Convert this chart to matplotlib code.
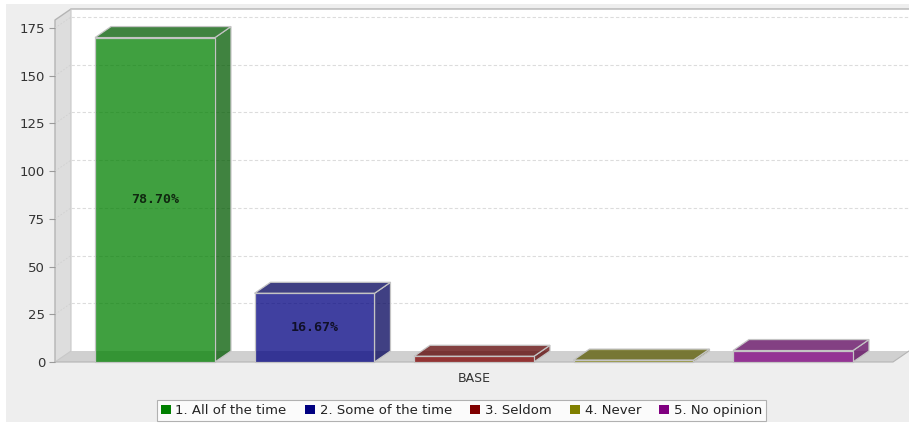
import matplotlib
matplotlib.use("Agg")
import matplotlib.pyplot as plt
from matplotlib.patches import Polygon, Rectangle
from matplotlib import colors as mcolors

# ---- data ----
categories = ["BASE"]
series_names = ["1. All of the time", "2. Some of the time", "3. Seldom", "4. Never", "5. No opinion"]
values = [170, 36, 3, 1, 6]
series_colors = ["#008000", "#000080", "#800000", "#808000", "#800080"]
bar_labels = ["78.70%", "16.67%", "", "", ""]
yticks = [0, 25, 50, 75, 100, 125, 150, 175]

W, H = 909, 424
fig = plt.figure(figsize=(W / 100, H / 100), dpi=100)
fig.patch.set_facecolor("white")
fig.patches.append(Rectangle((6 / W, 2 / H), (W - 6) / W, 418 / H, transform=fig.transFigure,
                             facecolor="#EEEEEE", edgecolor="none", zorder=-10))

ax = fig.add_axes([55 / W, 62 / H, 838 / W, 342 / H])
ax.set_facecolor("none")
xmin, xmax = -0.627, 4.627
ymin, ymax = 0, 179.2
ax.set_xlim(xmin, xmax)
ax.set_ylim(ymin, ymax)

DX = (xmax - xmin) / 838 * 16
DY = (ymax - ymin) / 342 * 11
bw = 0.752

# walls
ax.add_patch(Polygon([(xmin + DX, DY), (xmax + DX, DY), (xmax + DX, ymax + DY), (xmin + DX, ymax + DY)],
                     closed=True, facecolor="white", edgecolor="none", clip_on=False, zorder=0.5))
ax.add_patch(Polygon([(xmin, 0), (xmin + DX, DY), (xmin + DX, ymax + DY), (xmin, ymax)],
                     closed=True, facecolor="#DDDDDD", edgecolor="none", clip_on=False, zorder=0.6))
ax.add_patch(Polygon([(xmin, 0), (xmax, 0), (xmax + DX, DY), (xmin + DX, DY)],
                     closed=True, facecolor="#D0D0D0", edgecolor="none", clip_on=False, zorder=0.6))
# outline
ax.plot([xmin, xmin, xmin + DX, xmax + DX], [0, ymax, ymax + DY, ymax + DY],
        color="#B4B4B4", lw=1.0, clip_on=False, zorder=0.7)
ax.plot([xmin, xmin + DX, xmin + DX], [0, DY, ymax + DY], color="#C8C8C8", lw=0.8, clip_on=False, zorder=0.7)
ax.plot([xmin, xmax, xmax + DX], [0, 0, DY], color="#B4B4B4", lw=0.8, clip_on=False, zorder=0.7)

# gridlines on back wall + diagonal on left wall
for v in yticks[1:]:
    ax.plot([xmin + DX, xmax + DX], [v + DY, v + DY], color="#DCDCDC", lw=0.8,
            ls=(0, (3, 2)), clip_on=False, zorder=0.8)
    ax.plot([xmin, xmin + DX], [v, v + DY], color="#D0D0D0", lw=0.6,
            ls=(0, (2, 2)), clip_on=False, zorder=0.8)

def darker(c, f=0.7):
    r, g, b = mcolors.to_rgb(c)
    return (r * f, g * f, b * f)

edge = "#C4C4C4"
for i, (v, c, lab) in enumerate(zip(values, series_colors, bar_labels)):
    x0, x1 = i - bw / 2, i + bw / 2
    fc = mcolors.to_rgba(c, 0.75)
    dc = (*darker(c), 0.75)
    ax.add_patch(Polygon([(x1, 0), (x1 + DX, DY), (x1 + DX, v + DY), (x1, v)], closed=True,
                         facecolor=dc, edgecolor=edge, lw=0.9, clip_on=False, zorder=2))
    ax.add_patch(Polygon([(x0, v), (x1, v), (x1 + DX, v + DY), (x0 + DX, v + DY)], closed=True,
                         facecolor=dc, edgecolor=edge, lw=0.9, clip_on=False, zorder=2))
    ax.add_patch(Rectangle((x0, 0), bw, v, facecolor=fc, edgecolor=edge, lw=0.9,
                           clip_on=False, zorder=3))
    if lab:
        ax.text(i, v / 2, lab, ha="center", va="center", family="DejaVu Sans Mono",
                weight="bold", fontsize=9.5, color=(0, 0, 0, 0.75), zorder=4)

# axes styling
for s in ["top", "right", "bottom", "left"]:
    ax.spines[s].set_visible(False)
ax.set_yticks(yticks)
ax.set_yticklabels([str(t) for t in yticks])
ax.tick_params(axis="y", length=4, color="#9A9A9A", labelsize=9.5, labelcolor="#333333", pad=3)
ax.set_xticks([(len(values) - 1) / 2])
ax.set_xticklabels(categories)
ax.tick_params(axis="x", length=0, labelsize=9, labelcolor="#333333", pad=7.5)

handles = [Rectangle((0, 0), 1, 1, facecolor=c, edgecolor="none") for c in series_colors]
leg = fig.legend(handles, series_names, loc="lower center", bbox_to_anchor=(461.5 / W, 3 / H),
                 ncol=5, fontsize=9.5, frameon=True, fancybox=False, shadow=False,
                 handlelength=0.75, handleheight=0.75, handletextpad=0.35, columnspacing=1.4,
                 borderpad=0.3, borderaxespad=0)
leg.get_frame().set_edgecolor("#A0A0A0")
leg.get_frame().set_linewidth(0.8)
leg.get_frame().set_facecolor("white")
for t in leg.get_texts():
    t.set_color("#222222")

fig.savefig("out.png", dpi=100)
